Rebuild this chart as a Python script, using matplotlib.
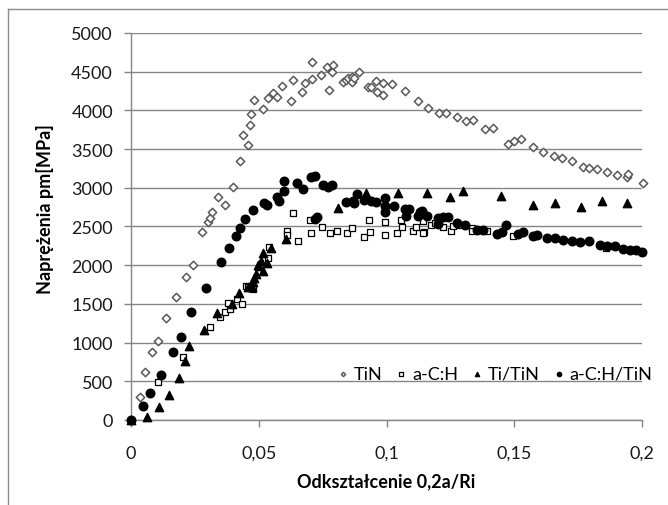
import matplotlib.pyplot as plt
from matplotlib.lines import Line2D
from matplotlib.ticker import FuncFormatter, MultipleLocator

plt.rcParams["font.family"] = ["Lato", "DejaVu Sans"]

# ─── Data ──────────────────────────────────────────────────────────────────────

tin_x = [0.0, 0.0035, 0.0055, 0.0083, 0.0104, 0.0137, 0.0175, 0.0217, 0.0244, 0.0277,
         0.0301, 0.0309, 0.0318, 0.0339, 0.0368, 0.0398, 0.0425, 0.0437, 0.0459, 0.0466,
         0.0470, 0.0483, 0.0515, 0.0537, 0.0555, 0.0570, 0.0590, 0.0626, 0.0635, 0.0668,
         0.0681, 0.0707, 0.0710, 0.0742, 0.0766, 0.0775, 0.0788, 0.0792, 0.0831, 0.0840,
         0.0851, 0.0864, 0.0866, 0.0873, 0.0892, 0.0929, 0.0938, 0.0958, 0.0962, 0.0985,
         0.0985, 0.1023, 0.1072, 0.1122, 0.1164, 0.1207, 0.1233, 0.1275, 0.1311, 0.1340,
         0.1386, 0.1416, 0.1474, 0.1500, 0.1526, 0.1572, 0.1614, 0.1656, 0.1686, 0.1725,
         0.1768, 0.1794, 0.1825, 0.1862, 0.1903, 0.1940, 0.1946, 0.2003]
tin_y = [0, 300, 615, 875, 1025, 1320, 1595, 1845, 2005, 2425,
         2555, 2605, 2685, 2885, 2780, 3005, 3345, 3685, 3555, 3810,
         3955, 4135, 4015, 4160, 4220, 4175, 4310, 4115, 4395, 4235,
         4355, 4630, 4405, 4460, 4555, 4265, 4490, 4585, 4370, 4395,
         4415, 4430, 4365, 4415, 4490, 4305, 4300, 4375, 4235, 4355,
         4205, 4340, 4245, 4120, 4025, 3965, 3965, 3920, 3865, 3875,
         3755, 3775, 3565, 3600, 3630, 3525, 3460, 3415, 3380, 3350,
         3265, 3255, 3245, 3200, 3170, 3135, 3180, 3060]

ach_x = [0.0, 0.0104, 0.0202, 0.0309, 0.0348, 0.0368, 0.0381, 0.0389, 0.0414, 0.0433,
         0.0450, 0.0458, 0.0479, 0.0537, 0.0541, 0.0609, 0.0609, 0.0635, 0.0652, 0.0701,
         0.0704, 0.0746, 0.0779, 0.0805, 0.0844, 0.0866, 0.0912, 0.0932, 0.0935, 0.0994,
         0.0994, 0.1042, 0.1056, 0.1060, 0.1105, 0.1114, 0.1144, 0.1147, 0.1144, 0.1174,
         0.1190, 0.1220, 0.1252, 0.1262, 0.1288, 0.1334, 0.1334, 0.1392, 0.1496, 0.1859,
         0.1885]
ach_y = [0, 495, 810, 1200, 1325, 1400, 1510, 1435, 1565, 1500,
         1725, 1720, 1695, 2095, 2230, 2440, 2390, 2670, 2315, 2585,
         2410, 2490, 2410, 2440, 2410, 2475, 2370, 2585, 2425, 2560,
         2395, 2410, 2585, 2490, 2440, 2490, 2575, 2435, 2415, 2520,
         2545, 2490, 2440, 2510, 2520, 2475, 2440, 2445, 2380, 2220,
         2245]

titin_x = [0.0, 0.0064, 0.0110, 0.0150, 0.0188, 0.0211, 0.0227, 0.0286, 0.0335, 0.0397,
           0.0424, 0.0459, 0.0472, 0.0476, 0.0481, 0.0489, 0.0498, 0.0502, 0.0508, 0.0515,
           0.0515, 0.0531, 0.0547, 0.0607, 0.0811, 0.0919, 0.1046, 0.1157, 0.1249, 0.1298,
           0.1447, 0.1575, 0.1659, 0.1760, 0.1842, 0.1940]
titin_y = [0, 35, 165, 325, 545, 760, 955, 1160, 1380, 1500,
           1635, 1715, 1715, 1780, 1835, 1885, 2005, 1995, 2060, 1930,
           2160, 2030, 2220, 2340, 2735, 2930, 2930, 2930, 2885, 2965,
           2900, 2780, 2805, 2755, 2835, 2810]

achtin_x = [0.0, 0.0046, 0.0076, 0.0117, 0.0166, 0.0196, 0.0235, 0.0294, 0.0352, 0.0384,
            0.0410, 0.0427, 0.0446, 0.0479, 0.0521, 0.0531, 0.0573, 0.0580, 0.0599, 0.0600,
            0.0649, 0.0672, 0.0704, 0.0720, 0.0720, 0.0727, 0.0750, 0.0772, 0.0788, 0.0841,
            0.0870, 0.0874, 0.0883, 0.0913, 0.0939, 0.0959, 0.0994, 0.0994, 0.0994, 0.1029,
            0.1072, 0.1076, 0.1089, 0.1124, 0.1131, 0.1138, 0.1160, 0.1203, 0.1203, 0.1223,
            0.1242, 0.1275, 0.1307, 0.1353, 0.1379, 0.1431, 0.1451, 0.1468, 0.1516, 0.1535,
            0.1575, 0.1588, 0.1627, 0.1659, 0.1692, 0.1725, 0.1757, 0.1794, 0.1836, 0.1862,
            0.1894, 0.1924, 0.1953, 0.1977, 0.1999]
achtin_y = [0, 180, 355, 575, 885, 1075, 1390, 1710, 2045, 2220,
            2380, 2475, 2595, 2715, 2800, 2780, 2885, 2835, 3090, 2955,
            3060, 2980, 3145, 3155, 2595, 2620, 3040, 3005, 3040, 2820,
            2835, 2800, 2920, 2845, 2835, 2820, 2865, 2770, 2685, 2760,
            2725, 2630, 2725, 2630, 2685, 2705, 2640, 2605, 2530, 2620,
            2620, 2545, 2520, 2455, 2460, 2405, 2435, 2520, 2405, 2435,
            2380, 2390, 2350, 2350, 2325, 2315, 2295, 2310, 2265, 2245,
            2245, 2210, 2195, 2200, 2165]

x_ticks = [0, 0.05, 0.1, 0.15, 0.2]
y_max = 5000

GRID = "#868686"
FS = 13

# ─── Figure ────────────────────────────────────────────────────────────────────

fig = plt.figure(figsize=(6.68, 5.06), dpi=100)
ax = fig.add_axes([131 / 668, 1 - 421 / 506, 511 / 668, 387 / 506])

ax.scatter(tin_x, tin_y, marker="D", s=18, facecolors="white",
           edgecolors="#595959", linewidths=1.1, label="TiN", clip_on=False, zorder=3)
ax.scatter(ach_x, ach_y, marker="s", s=22, facecolors="white",
           edgecolors="black", linewidths=0.9, label="a-C:H", clip_on=False, zorder=4)
ax.scatter(titin_x, titin_y, marker="^", s=36, color="black",
           label="Ti/TiN", clip_on=False, zorder=5)
ax.scatter(achtin_x, achtin_y, marker="o", s=38, color="black",
           label="a-C:H/TiN", clip_on=False, zorder=6)

ax.set_xlim(0, 0.2)
ax.set_ylim(0, y_max)
ax.set_xticks(x_ticks)
ax.yaxis.set_major_locator(MultipleLocator(500))
comma = FuncFormatter(lambda v, _: f"{v:g}".replace(".", ","))
ax.xaxis.set_major_formatter(comma)
ax.yaxis.set_major_formatter(FuncFormatter(lambda v, _: f"{v:.0f}"))

ax.grid(axis="y", color=GRID, linewidth=1.0)
ax.set_axisbelow(True)
for side in ("top", "right"):
    ax.spines[side].set_visible(False)
for side in ("left", "bottom"):
    ax.spines[side].set_color(GRID)
    ax.spines[side].set_linewidth(1.0)
ax.tick_params(axis="both", colors=GRID, labelcolor="#1a1a1a", length=5,
               width=1.0, labelsize=FS)
ax.tick_params(axis="x", pad=13)
ax.tick_params(axis="y", pad=8)

ax.set_xlabel("Odkształcenie 0,2a/Ri", fontsize=FS, fontweight="bold", labelpad=8)
fig.text(45 / 668, 1 - 209 / 506, "Naprężenia pm[MPa]", rotation=90,
         fontsize=FS, fontweight="bold", ha="center", va="center")

ax.legend(loc="center right", bbox_to_anchor=(1.035, 0.12), ncol=4, frameon=False,
          fontsize=FS, markerscale=0.5, handlelength=0.6, handletextpad=0.3,
          columnspacing=0.75, borderaxespad=0)

# chart-area border (only top and left edges are in frame)
fig.add_artist(Line2D([8 / 668, 1.0], [1 - 10 / 506, 1 - 10 / 506],
                      transform=fig.transFigure, color="#8c8c8c", linewidth=1.0))
fig.add_artist(Line2D([8 / 668, 8 / 668], [0.0, 1 - 10 / 506],
                      transform=fig.transFigure, color="#8c8c8c", linewidth=1.0))

fig.savefig("out.png", dpi=100)
